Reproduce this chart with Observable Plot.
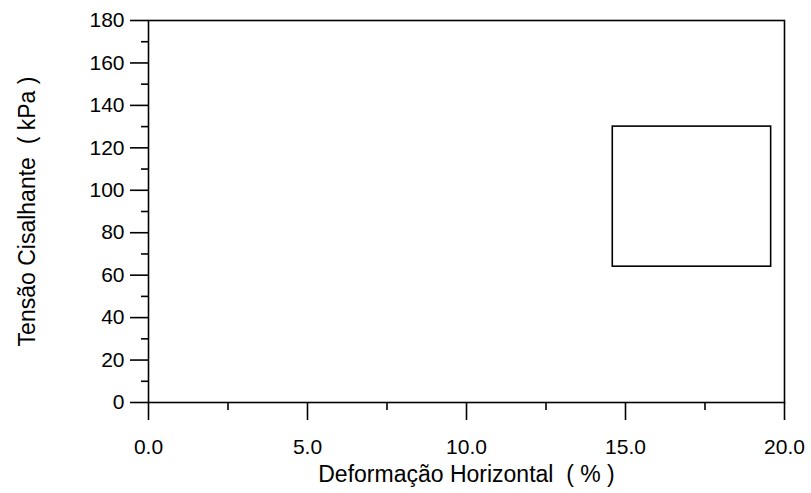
<!DOCTYPE html>
<html>
<head>
<meta charset="utf-8">
<script src="https://cdn.jsdelivr.net/npm/d3@7"></script>
<script src="https://cdn.jsdelivr.net/npm/@observablehq/plot@0.6"></script>
<style>
  html, body { margin: 0; padding: 0; background: #fff; }
  svg { display: block; }
</style>
</head>
<body>
<div id="chart"></div>
<script>
// Axis tick values
const xMajorTicks = [0, 5, 10, 15, 20];
const xMinorTicks = [2.5, 7.5, 12.5, 17.5];
const yMajorTicks = [0, 20, 40, 60, 80, 100, 120, 140, 160, 180];
const yMinorTicks = [10, 30, 50, 70, 90, 110, 130, 150, 170];
// Axis labels
const xLabel = "Deformação Horizontal  ( % )";
const yLabel = "Tensão Cisalhante  ( kPa )";
// The (empty) legend box drawn in the plot, in data units
const boxX1 = [14.6];
const boxX2 = [19.58];
const boxY1 = [64];
const boxY2 = [130];

const boxes = boxX1.map((x1, i) => ({x1, x2: boxX2[i], y1: boxY1[i], y2: boxY2[i]}));

const chart = Plot.plot({
  width: 811,
  height: 493,
  marginLeft: 148,
  marginRight: 27,
  marginTop: 20,
  marginBottom: 91,
  style: {fontFamily: "'Liberation Sans', Arial, sans-serif", fontSize: "21px", color: "#000", background: "#fff"},
  x: {domain: [0, 20]},
  y: {domain: [0, 180]},
  marks: [
    Plot.frame({stroke: "#000", strokeWidth: 1.6}),
    Plot.axisX({ticks: xMajorTicks, tickSize: 18, tickPadding: 19, tickFormat: d => d.toFixed(1), fontSize: 21, label: null, strokeWidth: 1.6}),
    Plot.axisX({ticks: xMinorTicks, tickSize: 8, text: null, label: null, strokeWidth: 1.6}),
    Plot.axisY({ticks: yMajorTicks, tickSize: 18, tickPadding: 6, tickFormat: d => String(d), fontSize: 21, label: null, strokeWidth: 1.6}),
    Plot.axisY({ticks: yMinorTicks, tickSize: 7, text: null, label: null, strokeWidth: 1.6}),
    Plot.rect(boxes, {x1: "x1", x2: "x2", y1: "y1", y2: "y2", fill: "none", stroke: "#000", strokeWidth: 1.6}),
    Plot.text([xLabel], {frameAnchor: "bottom", dy: 72, lineAnchor: "middle", fontSize: 23, fill: "#000"}),
    Plot.text([yLabel], {frameAnchor: "left", dx: -121, rotate: -90, textAnchor: "middle", lineAnchor: "middle", fontSize: 23, fill: "#000"})
  ]
});
document.getElementById("chart").appendChild(chart);
</script>
</body>
</html>
